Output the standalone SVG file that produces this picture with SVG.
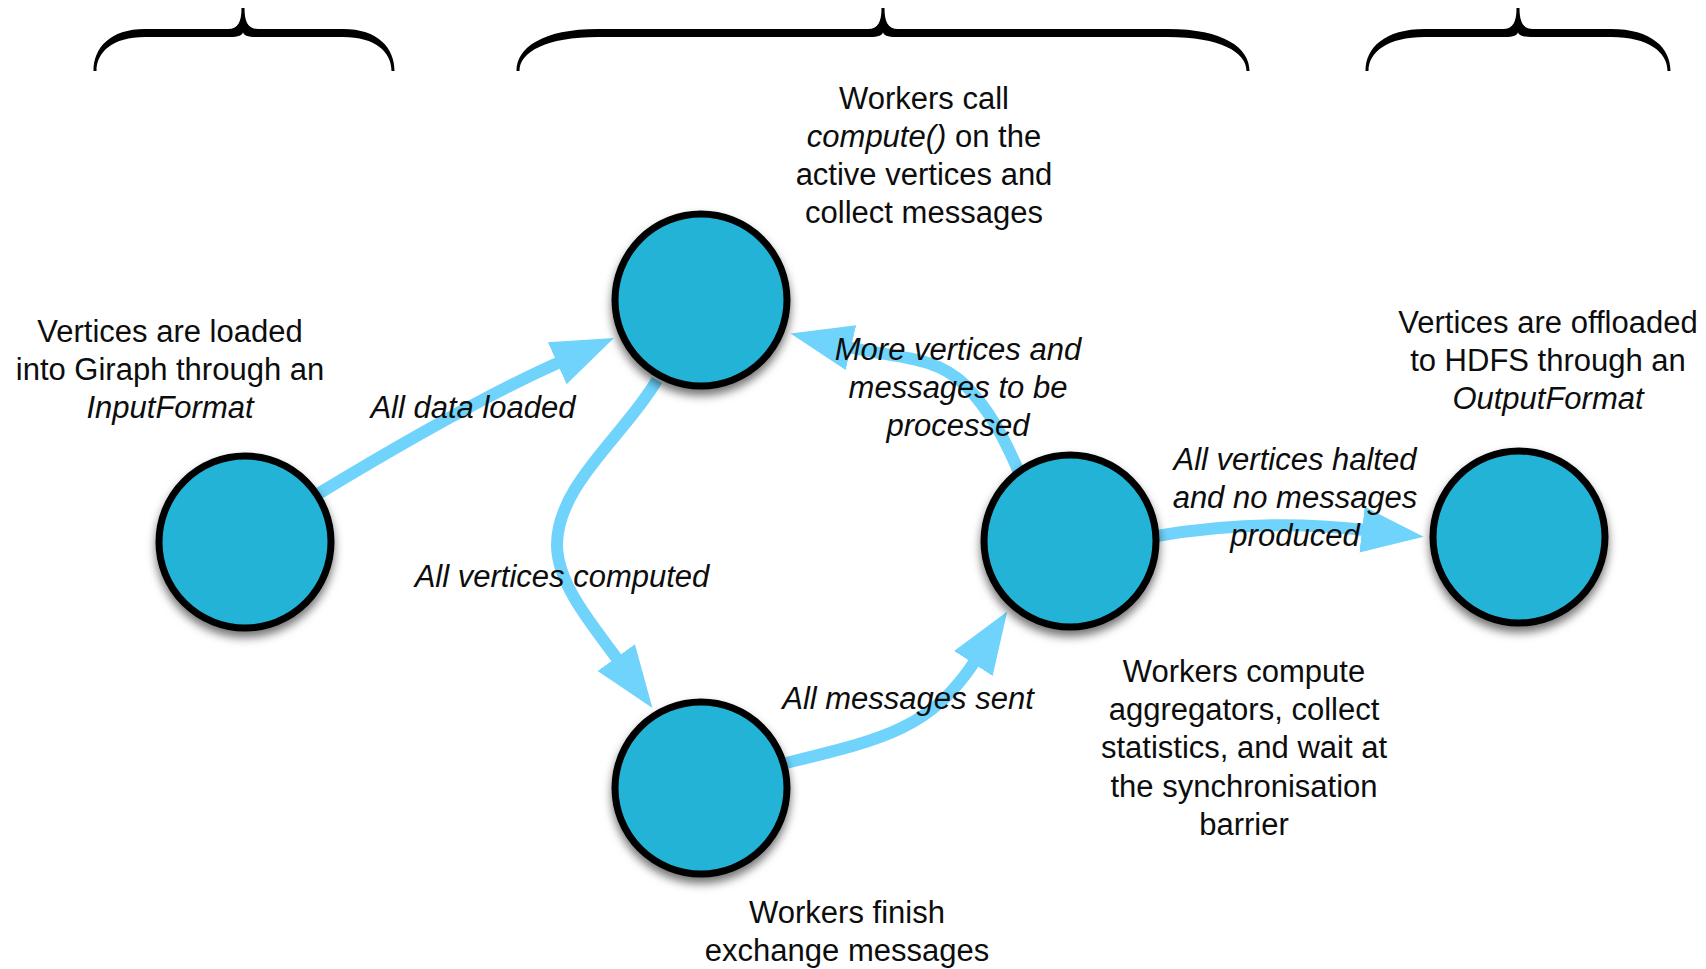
<svg xmlns="http://www.w3.org/2000/svg" width="1706" height="969" viewBox="0 0 1706 969">
  <style>
    .lbl { font-family: "Liberation Sans", Arial, Helvetica, sans-serif; font-size: 31px; fill: #0d0d0d; text-anchor: middle; }
    .it { font-style: italic; }
    .node { fill: #23b3d6; stroke: #000; stroke-width: 7; filter: url(#shadow); }
    .edge { fill: none; stroke: #6fd3fb; stroke-width: 12; stroke-linecap: butt; marker-end: url(#head); }
    .brace { fill: #000; }
  </style>
  <defs>
    <marker id="head" markerUnits="userSpaceOnUse" markerWidth="64" markerHeight="50" viewBox="0 0 64 50" refX="3" refY="25" orient="auto">
      <path d="M0,2 L62,25 L0,48 Z" fill="#6fd3fb"/>
    </marker>
    <filter id="shadow" x="-30%" y="-30%" width="160%" height="170%">
      <feDropShadow dx="0" dy="6" stdDeviation="5" flood-color="#000" flood-opacity="0.55"/>
    </filter>
  </defs>

  <rect width="1706" height="969" fill="#fff"/>

  <!-- phase braces -->
  <g id="braces">
    <path class="brace" d="M93.5,71 C93.5,48 110,29 145,29 L228,29 C238,29 241.5,22 241.5,8 L244.5,8 C244.5,22 248,29 258,29 L343,29 C378,29 394.5,48 394.5,71 L391.5,71 C391.5,52 375.5,37 343,37 L256,37 C248,37 243,35 243,32 C243,35 238,37 230,37 L145,37 C112.5,37 96.5,52 96.5,71 Z"/>
    <path class="brace" d="M516.5,71 C516.5,48 542,29 598,29 L868,29 C878,29 881.5,22 881.5,8 L884.5,8 C884.5,22 888,29 898,29 L1168,29 C1224,29 1249.5,48 1249.5,71 L1246.5,71 C1246.5,52 1220,37 1168,37 L896,37 C888,37 883,35 883,32 C883,35 878,37 870,37 L598,37 C546,37 519.5,52 519.5,71 Z"/>
    <path class="brace" d="M1365.5,71 C1365.5,48 1384.4,29 1425,29 L1503,29 C1513,29 1516.5,22 1516.5,8 L1519.5,8 C1519.5,22 1523,29 1533,29 L1611,29 C1651.6,29 1670.5,48 1670.5,71 L1667.5,71 C1667.5,52 1648.3,37 1611,37 L1531,37 C1523,37 1518,35 1518,32 C1518,35 1513,37 1505,37 L1425,37 C1387.3,37 1368.5,52 1368.5,71 Z"/>
  </g>

  <!-- transitions -->
  <g id="connectors">
    <path id="e-load" class="edge" d="M318,494 Q470,402 560,362"/>
    <path id="e-computed" class="edge" d="M657,380 C625,435 557,485 557,545 C557,585 595,628 618,660"/>
    <path id="e-sent" class="edge" d="M786,763 C880,740 930,730 975,661"/>
    <path id="e-more" class="edge" d="M1019,472 C1005,440 990,410 965,385 C935,355 895,358 848,347"/>
    <path id="e-halted" class="edge" d="M1157,536 Q1260,518 1365,530"/>
  </g>

  <g id="node-input">
    <circle class="node" cx="245" cy="542" r="86"/>
    <text class="lbl" x="170" y="342">Vertices are loaded</text>
    <text class="lbl" x="170" y="380">into Giraph through an</text>
    <text class="lbl it" x="170" y="418">InputFormat</text>
  </g>

  <g id="node-compute">
    <circle class="node" cx="701" cy="300" r="86"/>
    <text class="lbl" x="924" y="109">Workers call</text>
    <text class="lbl" x="924" y="147"><tspan class="it">compute()</tspan> on the</text>
    <text class="lbl" x="924" y="185">active vertices and</text>
    <text class="lbl" x="924" y="223">collect messages</text>
  </g>

  <g id="node-exchange">
    <circle class="node" cx="701" cy="788" r="86"/>
    <text class="lbl" x="847" y="923">Workers finish</text>
    <text class="lbl" x="847" y="961">exchange messages</text>
  </g>

  <g id="node-barrier">
    <circle class="node" cx="1070" cy="541" r="86"/>
    <text class="lbl" x="1244" y="682">Workers compute</text>
    <text class="lbl" x="1244" y="720">aggregators, collect</text>
    <text class="lbl" x="1244" y="758">statistics, and wait at</text>
    <text class="lbl" x="1244" y="797">the synchronisation</text>
    <text class="lbl" x="1244" y="835">barrier</text>
  </g>

  <g id="node-output">
    <circle class="node" cx="1519" cy="537" r="86"/>
    <text class="lbl" x="1548" y="333">Vertices are offloaded</text>
    <text class="lbl" x="1548" y="371">to HDFS through an</text>
    <text class="lbl it" x="1548" y="409">OutputFormat</text>
  </g>

  <g id="edge-labels">
    <text class="lbl it" x="473" y="418">All data loaded</text>
    <text class="lbl it" x="562" y="587">All vertices computed</text>
    <text class="lbl it" x="908" y="709">All messages sent</text>
    <text class="lbl it" x="958" y="360">More vertices and</text>
    <text class="lbl it" x="958" y="398">messages to be</text>
    <text class="lbl it" x="958" y="436">processed</text>
    <text class="lbl it" x="1295" y="470">All vertices halted</text>
    <text class="lbl it" x="1295" y="508">and no messages</text>
    <text class="lbl it" x="1295" y="546">produced</text>
  </g>
</svg>
